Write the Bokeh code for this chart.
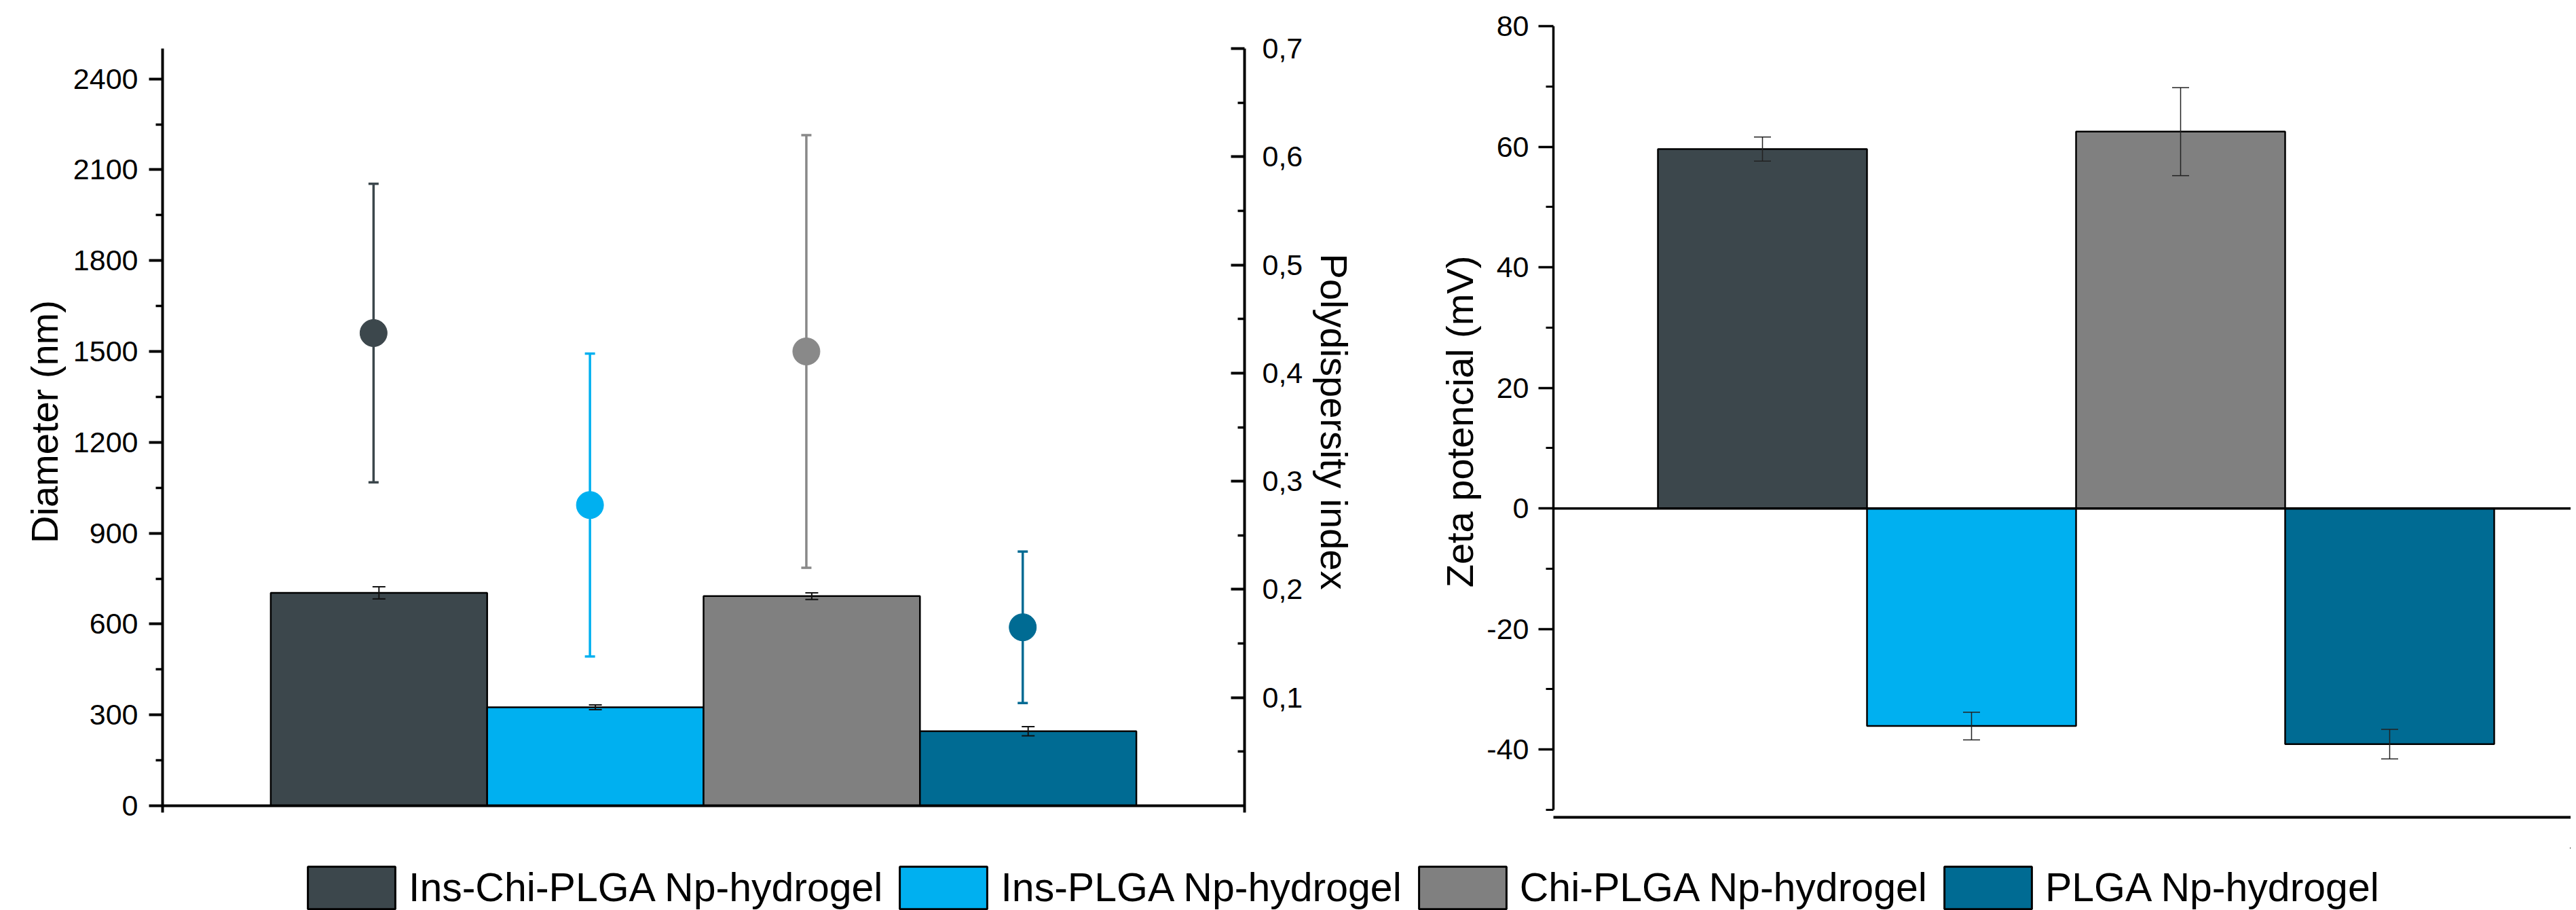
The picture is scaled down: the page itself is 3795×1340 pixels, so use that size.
from bokeh.plotting import figure
from bokeh.models import (Range1d, LinearAxis, FixedTicker, Whisker, TeeHead,
                          ColumnDataSource, Span, Legend, LegendItem)
from bokeh.layouts import column, row
from bokeh.embed import file_html
from bokeh.resources import INLINE

# ---------------- data ----------------
categories = ["Ins-Chi-PLGA Np-hydrogel", "Ins-PLGA Np-hydrogel",
              "Chi-PLGA Np-hydrogel", "PLGA Np-hydrogel"]
bar_colors = ["#3c474c", "#00b0f0", "#808080", "#006b93"]
pdi_colors = ["#3c474c", "#00b0f0", "#898989", "#006b93"]

diameter = [703, 325, 692, 246]
diameter_err = [20, 8, 11, 15]
pdi = [0.437, 0.278, 0.420, 0.165]
pdi_err = [0.138, 0.140, 0.200, 0.070]
zeta = [59.6, -36.1, 62.5, -39.1]
zeta_err = [2.0, 2.3, 7.3, 2.45]

diam_ticks = [0, 300, 600, 900, 1200, 1500, 1800, 2100, 2400]
diam_minor = [150, 450, 750, 1050, 1350, 1650, 1950, 2250]
diam_max = 2500
pdi_ticks = [0.1, 0.2, 0.3, 0.4, 0.5, 0.6, 0.7]
pdi_minor = [0.05, 0.15, 0.25, 0.35, 0.45, 0.55, 0.65]
pdi_tick_labels = ["0,1", "0,2", "0,3", "0,4", "0,5", "0,6", "0,7"]
pdi_max = 0.7
zeta_ticks = [-40, -20, 0, 20, 40, 60, 80]
zeta_tick_labels = ["-40", "-20", "0", "20", "40", "60", "80"]
zeta_minor = [-50, -30, -10, 10, 30, 50, 70]
zeta_bounds = (-50, 80)

FONT = "Liberation Sans"
BLACK = "#000000"
xs = list(range(1, len(categories) + 1))
pdi_offset = -0.025

# ---------------- layout geometry (pixels) ----------------
FIG_H = 1248
FRAME_TOP = 38          # common frame top for both panels
FRAME_BOTTOM = 1203     # common frame bottom for both panels
L_TOP_VALUE_PX = 71     # where 2500 / 0.7 sits
L_ZERO_PX = 1186        # where 0 sits in left panel
L_EXT_PX = 10           # axis lines extend below zero
Z_MIN_PX = 1192         # where -50 sits in right panel
l_scale = (L_ZERO_PX - L_TOP_VALUE_PX) / diam_max
d_start = -(FRAME_BOTTOM - L_ZERO_PX) / l_scale
d_end = diam_max + (L_TOP_VALUE_PX - FRAME_TOP) / l_scale
p_start = d_start * pdi_max / diam_max
p_end = d_end * pdi_max / diam_max
ext_d = -L_EXT_PX / l_scale
ext_p = ext_d * pdi_max / diam_max


def style_axis(ax, label_size="56px"):
    ax.axis_label_text_font = FONT
    ax.axis_label_text_font_size = label_size
    ax.axis_label_text_font_style = "normal"
    ax.axis_label_text_color = BLACK
    ax.major_label_text_font = FONT
    ax.major_label_text_font_size = "43px"
    ax.major_label_text_color = BLACK
    ax.axis_line_color = BLACK
    ax.major_tick_line_color = BLACK
    ax.minor_tick_line_color = BLACK


# ---------------- left panel: diameter + PDI ----------------
p1 = figure(width=2058, height=FIG_H, x_range=Range1d(0, 5), y_range=Range1d(d_start, d_end),
            output_backend="svg", toolbar_location=None, x_axis_location=None,
            min_border_left=239, min_border_right=225,
            min_border_top=FRAME_TOP, min_border_bottom=FIG_H - FRAME_BOTTOM)
p1.extra_y_ranges = {"pdi": Range1d(p_start, p_end)}
p1.outline_line_color = None
p1.xgrid.visible = False
p1.ygrid.visible = False

src1 = ColumnDataSource(dict(x=xs, top=diameter, color=bar_colors,
                             upper=[d + e for d, e in zip(diameter, diameter_err)],
                             lower=[d - e for d, e in zip(diameter, diameter_err)]))
p1.vbar(x="x", top="top", width=1.0, bottom=0, source=src1, fill_color="color",
        line_color="black", line_width=2.5)
wb = Whisker(source=src1, base="x", upper="upper", lower="lower", dimension="height",
             line_color="#111111", line_width=2, level="annotation",
             upper_head=TeeHead(size=19, line_color="#111111", line_width=2),
             lower_head=TeeHead(size=19, line_color="#111111", line_width=2))
p1.add_layout(wb)

for i in range(len(categories)):
    s = ColumnDataSource(dict(x=[xs[i] + pdi_offset], upper=[pdi[i] + pdi_err[i]],
                              lower=[pdi[i] - pdi_err[i]]))
    w = Whisker(source=s, base="x", upper="upper", lower="lower", dimension="height",
                y_range_name="pdi", line_color=pdi_colors[i], line_width=3.5,
                level="annotation",
                upper_head=TeeHead(size=15, line_color=pdi_colors[i], line_width=3.5),
                lower_head=TeeHead(size=15, line_color=pdi_colors[i], line_width=3.5))
    p1.add_layout(w)

src_pdi = ColumnDataSource(dict(x=[x + pdi_offset for x in xs], y=pdi, color=pdi_colors))
p1.scatter(x="x", y="y", source=src_pdi, size=40, fill_color="color", line_color="color",
           y_range_name="pdi", level="overlay")

# baseline (x axis line at zero)
p1.add_layout(Span(location=0, dimension="width", line_color=BLACK, line_width=4,
                   level="overlay"))

# left axis
ya = p1.yaxis[0]
ya.bounds = (ext_d, diam_max)
ya.ticker = FixedTicker(ticks=diam_ticks, minor_ticks=diam_minor)
ya.axis_label = "Diameter (nm)"
style_axis(ya)
ya.axis_label_standoff = 8
ya.major_label_standoff = 16
ya.axis_line_width = 4
ya.major_tick_line_width = 4
ya.minor_tick_line_width = 3.5
ya.major_tick_out = 20
ya.major_tick_in = 0
ya.minor_tick_out = 10
ya.minor_tick_in = 0

# right axis (PDI)
ra = LinearAxis(y_range_name="pdi", bounds=(ext_p, pdi_max),
                ticker=FixedTicker(ticks=pdi_ticks, minor_ticks=pdi_minor),
                major_label_overrides={t: l for t, l in zip(pdi_ticks, pdi_tick_labels)})
ra.axis_label = "Polydispersity index"
style_axis(ra)
ra.axis_label_standoff = 12
ra.major_label_standoff = 26
ra.axis_line_width = 4
ra.major_tick_line_width = 4
ra.minor_tick_line_width = 3.5
ra.major_tick_out = 0
ra.major_tick_in = 20
ra.minor_tick_out = 0
ra.minor_tick_in = 10
p1.add_layout(ra, "right")

# ---------------- right panel: zeta potential ----------------
z_scale = (Z_MIN_PX - FRAME_TOP) / (zeta_bounds[1] - zeta_bounds[0])
z_start = zeta_bounds[0] - (FRAME_BOTTOM - Z_MIN_PX) / z_scale
p2 = figure(width=1729, height=FIG_H, x_range=Range1d(0, 1499 / 308),
            y_range=Range1d(z_start, zeta_bounds[1]),
            output_backend="svg", toolbar_location=None,
            min_border_left=230, min_border_right=0,
            min_border_top=FRAME_TOP, min_border_bottom=FIG_H - FRAME_BOTTOM)
p2.outline_line_color = None
p2.xgrid.visible = False
p2.ygrid.visible = False

src2 = ColumnDataSource(dict(x=xs, top=zeta, color=bar_colors,
                             upper=[z + e for z, e in zip(zeta, zeta_err)],
                             lower=[z - e for z, e in zip(zeta, zeta_err)]))
p2.vbar(x="x", top="top", bottom=0, width=1.0, source=src2, fill_color="color",
        line_color="black", line_width=2.5)
wz = Whisker(source=src2, base="x", upper="upper", lower="lower", dimension="height",
             line_color="#222222", line_width=1.5, level="annotation",
             upper_head=TeeHead(size=25, line_color="#222222", line_width=1.5),
             lower_head=TeeHead(size=25, line_color="#222222", line_width=1.5))
p2.add_layout(wz)
p2.add_layout(Span(location=0, dimension="width", line_color=BLACK, line_width=3.5))

za = p2.yaxis[0]
za.bounds = zeta_bounds
za.ticker = FixedTicker(ticks=zeta_ticks, minor_ticks=zeta_minor)
za.major_label_overrides = {t: l for t, l in zip(zeta_ticks, zeta_tick_labels)}
za.axis_label = "Zeta potencial (mV)"
style_axis(za)
za.axis_label_standoff = 5
za.major_label_standoff = 14
za.axis_line_width = 3.5
za.major_tick_line_width = 3.5
za.minor_tick_line_width = 3
za.major_tick_out = 22
za.major_tick_in = 0
za.minor_tick_out = 11
za.minor_tick_in = 0

zx = p2.xaxis[0]
zx.ticker = FixedTicker(ticks=[], minor_ticks=[])
zx.axis_line_width = 4
zx.axis_line_color = BLACK
zx.major_tick_out = 0
zx.minor_tick_out = 0

# ---------------- legend strip ----------------
p3 = figure(width=3787, height=92, x_range=Range1d(-3, -2), y_range=Range1d(-3, -2),
            output_backend="svg", toolbar_location=None,
            x_axis_location=None, y_axis_location=None,
            min_border_left=0, min_border_right=0, min_border_top=0, min_border_bottom=0)
p3.outline_line_color = None
p3.xgrid.visible = False
p3.ygrid.visible = False

items = []
for i, (name, c) in enumerate(zip(categories, bar_colors)):
    r = p3.vbar(x=[xs[i]], top=[diameter[i]], width=1.0, fill_color=c,
                line_color="black", line_width=3)
    items.append(LegendItem(label=name, renderers=[r]))
legend = Legend(items=items, orientation="horizontal", location=(437, -6),
                glyph_width=161, glyph_height=78, label_standoff=4, spacing=9,
                padding=0, margin=0, border_line_color=None, background_fill_alpha=0,
                label_text_font=FONT, label_text_font_size="59px",
                label_text_color=BLACK)
p3.add_layout(legend, "center")

layout = column(row(p1, p2), p3)
open("out.html", "w").write(file_html(layout, INLINE))
